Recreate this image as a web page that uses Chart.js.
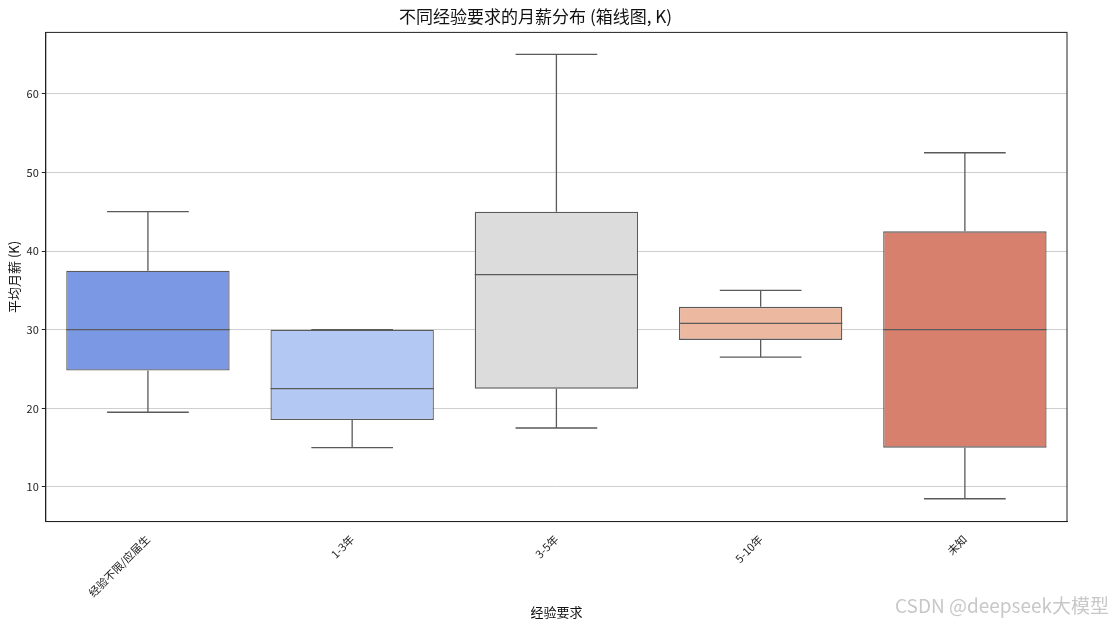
<!DOCTYPE html>
<html><head><meta charset="utf-8">
<script src="https://cdn.jsdelivr.net/npm/chart.js"></script>
<style>
body{margin:0;background:#fff;}
#wrap{position:relative;width:1113px;height:624px;}
#mark{position:absolute;right:4px;bottom:6px;font:19px "Noto Sans CJK SC",sans-serif;color:#c8c8c8;}
</style></head><body>
<div id="wrap"><canvas id="myChart" width="1113" height="624"></canvas><div id="mark">CSDN @deepseek大模型</div></div>
<script>
const categories = ['经验不限/应届生', '1-3年', '3-5年', '5-10年', '未知'];
const mins    = [19.5, 15,   17.5, 26.5, 8.5];
const q1s     = [24.8, 18.5, 22.5, 28.7, 15];
const medians = [30,   22.5, 37,   30.8, 30];
const q3s     = [37.5, 30,   45,   32.9, 42.5];
const maxs    = [45,   30,   65,   35,   52.5];
const colors  = ['#7b98e4', '#b3c9f4', '#dcdcdc', '#ecb8a0', '#d6806d'];
const yTicks  = [10, 20, 30, 40, 50, 60];

const font = '"Noto Sans CJK SC", "DejaVu Sans", sans-serif';

const boxPlugin = {
  id: 'boxParts',
  afterDatasetsDraw(chart) {
    const ctx = chart.ctx, x = chart.scales.x, y = chart.scales.y;
    const meta = chart.getDatasetMeta(0);
    ctx.save();
    ctx.strokeStyle = '#5a5a5a';
    ctx.lineWidth = 1.3;
    meta.data.forEach((bar, i) => {
      const cx = x.getPixelForValue(i);
      const half = bar.width / 2;
      const py = v => y.getPixelForValue(v);
      ctx.beginPath();
      ctx.moveTo(cx, py(q3s[i])); ctx.lineTo(cx, py(maxs[i]));
      ctx.moveTo(cx, py(q1s[i])); ctx.lineTo(cx, py(mins[i]));
      ctx.moveTo(cx - half / 2, py(maxs[i])); ctx.lineTo(cx + half / 2, py(maxs[i]));
      ctx.moveTo(cx - half / 2, py(mins[i])); ctx.lineTo(cx + half / 2, py(mins[i]));
      ctx.moveTo(cx - half, py(medians[i])); ctx.lineTo(cx + half, py(medians[i]));
      ctx.stroke();
    });
    ctx.restore();
  },
  afterDraw(chart) {
    const a = chart.chartArea, ctx = chart.ctx;
    ctx.save();
    ctx.strokeStyle = '#222'; ctx.lineWidth = 1;
    ctx.strokeRect(a.left, a.top, a.right - a.left, a.bottom - a.top);
    ctx.restore();
  }
};

const config = {
  type: 'bar',
  data: {
    labels: categories,
    datasets: [{
      data: q1s.map((q, i) => [q, q3s[i]]),
      backgroundColor: colors,
      borderColor: '#5a5a5a',
      borderWidth: 1.3,
      borderSkipped: false,
      categoryPercentage: 1,
      barPercentage: 0.8
    }]
  },
  options: {
    responsive: false,
    animation: false,
    layout: { padding: { left: 4, right: 46, top: 0, bottom: 0 } },
    plugins: {
      legend: { display: false },
      tooltip: { enabled: false },
      title: { display: true, text: '不同经验要求的月薪分布 (箱线图, K)', color: '#111',
               font: { family: font, size: 17, weight: 'normal' }, padding: { top: 6, bottom: 6 } }
    },
    scales: {
      x: {
        grid: { display: false },
        border: { color: '#222' },
        ticks: { color: '#222', font: { family: font, size: 11 }, maxRotation: 45, minRotation: 45 },
        title: { display: true, text: '经验要求', color: '#111', font: { family: font, size: 13 }, padding: { top: 2 } }
      },
      y: {
        min: 5.6, max: 67.8,
        afterBuildTicks: s => { s.ticks = yTicks.map(v => ({ value: v })); },
        grid: { color: '#cfcfcf', borderDash: [4, 3], drawTicks: true, tickColor: '#222', tickLength: 4 },
        border: { color: '#222', dash: [] },
        ticks: { color: '#222', font: { family: font, size: 11 } },
        title: { display: true, text: '平均月薪 (K)', color: '#111', font: { family: font, size: 13 }, padding: 2 }
      }
    }
  },
  plugins: [boxPlugin]
};

new Chart(document.getElementById('myChart'), config);
</script>
</body></html>
